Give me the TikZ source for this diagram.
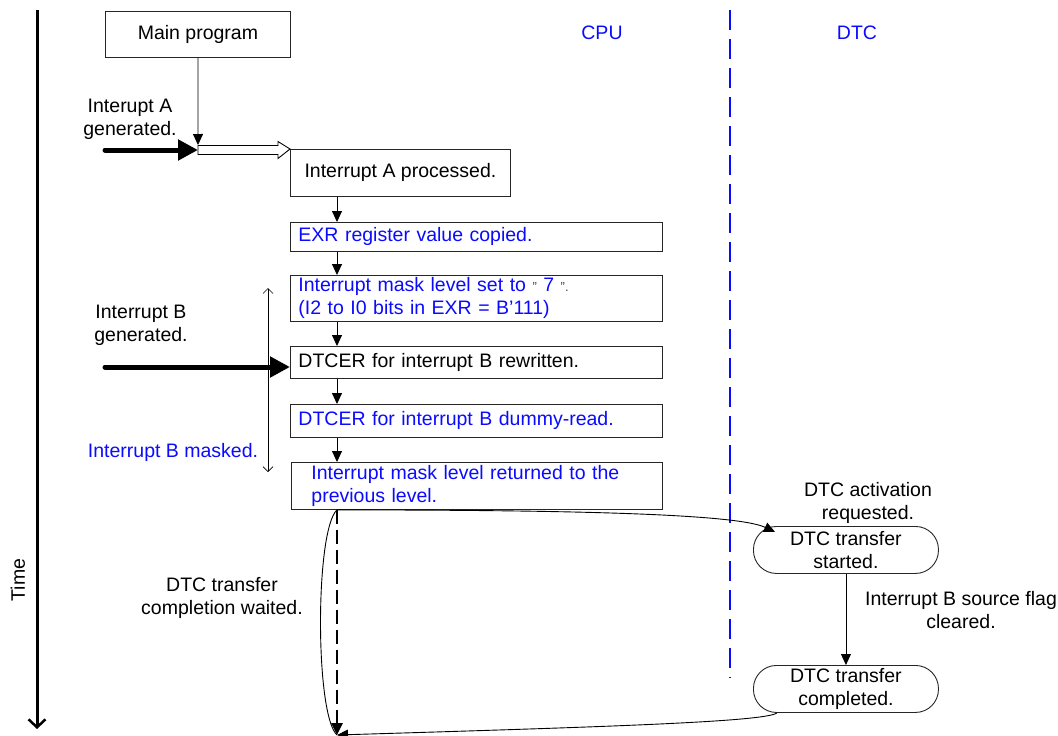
\documentclass[tikz,border=0pt]{standalone}
\usepackage{fontspec}
\setmainfont{Liberation Sans}
\usetikzlibrary{arrows.meta,calc}
\definecolor{tblue}{RGB}{10,10,255}
\begin{document}
\begin{tikzpicture}[x=1pt,y=-1pt,
  font=\fontsize{19.5}{23}\selectfont,
  box/.style={draw=black!85,line width=0.9pt,inner ysep=0pt,anchor=north west},
  lbox/.style={box,minimum width=372pt,text width=356pt,inner xsep=8pt,align=left},
  stad/.style={draw=black!85,line width=0.9pt,rounded corners=23pt,minimum width=185pt,minimum height=47pt,inner ysep=0pt,align=center,anchor=north west},
  conn/.style={line width=0.9pt,-{Triangle[length=11pt,width=10pt]}},
  fat/.style={line width=5pt,line cap=round,-{Triangle[length=20pt,width=20pt]}},
  lbl/.style={align=center,inner sep=0pt}
]
\useasboundingbox (0,0) rectangle (1058,736);

% time axis
\coordinate (t0) at (37,10);
\coordinate (t1) at (37,729);
\draw[line width=3pt,-{Straight Barb[length=8pt,width=17pt,line width=2.5pt]}] (t0) -- (t1);
\node[rotate=90,lbl] (time) at (18,580) {Time};

% lane labels and separator
\node[lbl,text=tblue] (cpu) at (602,33) {CPU};
\node[lbl,text=tblue] (dtc) at (857,33) {DTC};
\coordinate (d0) at (730,10);
\coordinate (d1) at (730,678);
\draw[tblue,line width=2pt,dash pattern=on 20pt off 9pt] (d0) -- (d1);

% CPU boxes
\node[box,minimum width=185pt,minimum height=46pt] (main) at (105,11) {Main program};
\node[box,minimum width=220pt,minimum height=47pt] (bA) at (290,149) {Interrupt A processed.};
\node[lbox,minimum height=29pt,text=tblue] (bB) at (290,222) {EXR register value copied.};
\node[lbox,minimum height=46pt,text=tblue] (bC) at (290,275) {Interrupt mask level set to {\color{black!75}\fontsize{13}{15}\selectfont"} 7 {\color{black!75}\fontsize{13}{15}\selectfont".}\\(I2 to I0 bits in EXR = B’111)};
\node[lbox,minimum height=32pt] (bD) at (290,346) {DTCER for interrupt B rewritten.};
\node[lbox,minimum height=33pt,text=tblue] (bE) at (290,404) {DTCER for interrupt B dummy-read.};
\node[box,minimum width=371pt,minimum height=47pt,text width=331pt,inner xsep=20pt,align=left,text=tblue] (bF) at (291,462) {Interrupt mask level returned to the\\previous level.};

% vertical connectors in CPU column
\draw[conn] ($(bA.south west)+(47,0)$) -- ($(bB.north west)+(47,0)$);
\draw[conn] ($(bB.south west)+(47,0)$) -- ($(bC.north west)+(47,0)$);
\draw[conn] ($(bC.south west)+(47,0)$) -- ($(bD.north west)+(47,0)$);
\draw[conn] ($(bD.south west)+(47,0)$) -- ($(bE.north west)+(47,0)$);
\draw[conn] ($(bE.south west)+(47,0)$) -- ($(bF.north west)+(46,0)$);

% interrupt A
\coordinate (j) at (198,150);
\coordinate (ia) at (105,150);
\draw[line width=0.9pt,fill=white] ($(j)+(0,-4.5)$) -- ($(j)+(80,-4.5)$) -- ($(j)+(80,-8.5)$) -- (bA.north west) -- ($(j)+(80,8.5)$) -- ($(j)+(80,4.5)$) -- ($(j)+(0,4.5)$) -- cycle;
\draw[conn] (main.south) -- ($(j)+(0,-5)$);
\draw[fat] (ia) -- (j);
\node[lbl] (la) at (130,119) {Interupt A\\generated.};

% interrupt B
\coordinate (ib) at (105,367);
\draw[fat] (ib) -- (ib -| bD.west);
\node[lbl] (lb) at (141,325) {Interrupt B\\generated.};
\coordinate (m0) at (268,288);
\coordinate (m1) at (268,472);
\draw[line width=0.7pt,{Straight Barb[length=5pt,width=10pt]}-{Straight Barb[length=5pt,width=10pt]}] (m0) -- (m1);
\node[lbl,text=tblue] (lm) at (173,452) {Interrupt B masked.};

% DTC side
\node[stad] (ds) at (753,526) {DTC transfer\\started.};
\node[stad] (dc) at (753,665) {DTC transfer\\completed.};
\draw[conn] (ds.south) -- (dc.north);
\node[lbl] (lact) at (868,503) {DTC activation\\requested.};
\node[lbl] (lflag) at (961,610) {Interrupt B source flag\\cleared.};

% waiting / activation
\coordinate (s) at ($(bF.south west)+(46,0)$);
\coordinate (e) at (337,735);
\draw[conn] (s) .. controls (550,510) and (735,513) .. ($(ds.north west)+(22,6)$);
\draw[line width=0.9pt] (s) .. controls (315,530) and (315,715) .. (e);
\draw[line width=2.5pt,dash pattern=on 14pt off 6pt,-{Triangle[length=12pt,width=11pt]}] (s) -- (e);
\draw[conn] ($(dc.south west)+(24,0)$) .. controls (765,722) and (600,727) .. (e);
\node[lbl] (lw) at (222,598) {DTC transfer\\completion waited.};
\end{tikzpicture}
\end{document}
